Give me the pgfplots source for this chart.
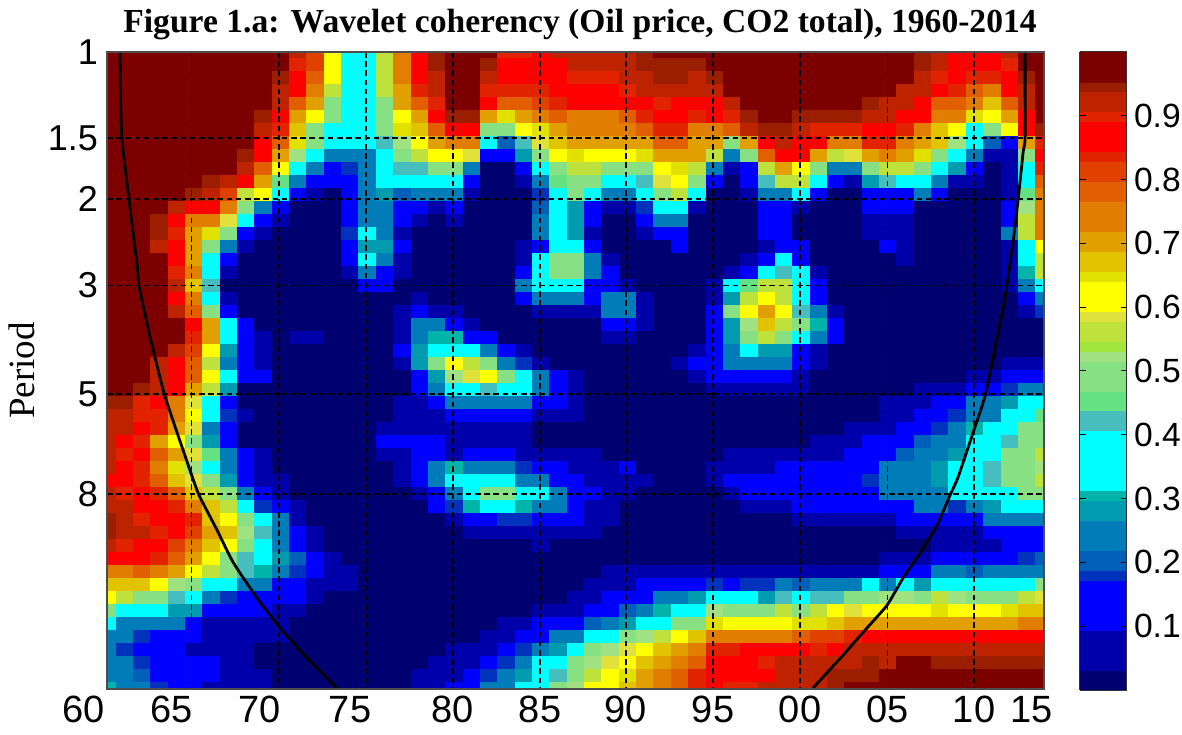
\documentclass[border=0pt]{standalone}
\usepackage{fontspec}
\usepackage{pgfplots}
\usepackage{pgfplotstable}
\pgfplotsset{compat=1.18}
\setmainfont{Liberation Sans}
\newfontfamily\ttlfont{Liberation Serif}
\pgfdeclareplotmark{cell}{\pgfpathrectangle{\pgfpoint{-4.34pt}{-3.25pt}}{\pgfpoint{8.68pt}{6.5pt}}\pgfusepathqfillstroke}
\pgfplotsset{colormap={wl}{
rgb255=(0,0,112) rgb255=(0,0,112)
rgb255=(0,0,170) rgb255=(0,0,170) rgb255=(0,0,170) rgb255=(0,0,170)
rgb255=(0,0,255) rgb255=(0,0,255) rgb255=(0,0,255) rgb255=(0,0,255) rgb255=(0,0,255)
rgb255=(0,50,190)
rgb255=(0,95,185) rgb255=(0,95,185)
rgb255=(0,125,185) rgb255=(0,125,185) rgb255=(0,125,185)
rgb255=(0,155,175) rgb255=(0,155,175)
rgb255=(0,180,170)
rgb255=(0,255,255) rgb255=(0,255,255) rgb255=(0,255,255) rgb255=(0,255,255) rgb255=(0,255,255) rgb255=(0,255,255)
rgb255=(70,190,190) rgb255=(70,190,190)
rgb255=(100,225,130) rgb255=(100,225,130)
rgb255=(135,225,130) rgb255=(135,225,130) rgb255=(135,225,130)
rgb255=(160,225,130)
rgb255=(160,230,60)
rgb255=(190,225,60) rgb255=(190,225,60)
rgb255=(225,225,60)
rgb255=(255,255,0) rgb255=(255,255,0) rgb255=(255,255,0)
rgb255=(225,225,0)
rgb255=(225,195,0) rgb255=(225,195,0)
rgb255=(225,160,0) rgb255=(225,160,0)
rgb255=(225,125,0) rgb255=(225,125,0) rgb255=(225,125,0)
rgb255=(225,95,0) rgb255=(225,95,0)
rgb255=(225,65,0) rgb255=(225,65,0)
rgb255=(225,35,0)
rgb255=(255,0,0) rgb255=(255,0,0) rgb255=(255,0,0)
rgb255=(225,35,0)
rgb255=(190,35,0) rgb255=(190,35,0)
rgb255=(155,30,0)
rgb255=(125,0,0) rgb255=(125,0,0) rgb255=(125,0,0)
}, colormap access=piecewise constant}
\pgfplotstableread[header=false]{
1960 99 99 99 99 99 99 99 99 99 99 99 99 99 99 99 99 99 99 99 99 99 99 99 99 99 99 99 95 92 92 92 92 92 88 92 92 95 95 92 88 74 66 63 47 33 26 22 24 26 30
1961 99 99 99 99 99 99 99 99 99 99 99 99 99 99 99 99 99 99 99 99 99 99 99 99 99 99 99 95 92 92 88 84 88 88 84 92 92 92 84 88 76 66 56 33 26 24 18 26 26 26
1962 99 99 99 99 99 99 99 99 99 99 99 99 99 99 99 99 99 99 99 99 99 99 99 99 99 99 95 84 84 88 84 88 84 84 88 88 84 92 88 88 79 68 50 33 26 18 15 18 20 22
1963 99 99 99 99 99 99 99 99 99 99 99 99 99 95 95 92 99 99 99 99 99 99 99 99 93 92 92 88 84 84 71 79 76 79 84 88 88 84 88 84 74 63 50 33 26 15 15 15 15 18
1964 99 99 99 99 99 99 99 99 99 99 99 99 92 88 84 88 88 84 92 88 92 99 99 92 88 88 88 74 74 71 63 71 65 68 79 84 88 88 81 79 71 52 43 29 22 15 15 15 15 15
1965 99 99 99 99 99 99 99 99 99 99 99 95 88 76 71 71 71 74 68 76 79 88 84 81 79 79 71 59 62 59 50 59 52 59 68 76 84 81 76 71 63 50 33 29 15 15 8 15 15 15
1966 99 99 99 99 99 99 99 99 99 99 95 92 88 74 65 50 33 33 43 33 47 71 71 63 55 62 56 33 33 26 29 45 33 47 56 66 68 71 66 62 56 33 26 15 8 8 8 15 15 8
1967 99 99 99 99 99 99 99 99 99 99 92 81 76 59 47 26 15 8 0 8 10 33 33 29 24 33 29 15 18 10 15 26 22 29 50 55 63 68 63 50 47 33 18 15 8 8 8 8 8 8
1968 99 99 99 99 99 99 99 99 95 92 88 56 50 33 15 8 0 0 0 0 0 10 15 10 10 15 0 0 8 0 0 15 15 15 26 33 47 52 50 43 43 26 15 15 8 8 8 8 8 8
1969 99 99 99 99 99 95 92 88 88 79 71 62 22 15 8 0 0 0 0 0 0 0 8 8 8 10 0 0 0 0 0 8 8 8 15 18 33 43 33 33 30 24 15 15 8 8 0 0 8 8
1970 99 99 95 92 92 88 84 79 71 62 45 33 15 8 0 0 0 0 0 0 0 0 0 0 0 0 0 0 0 0 0 0 0 8 8 15 22 26 26 29 24 15 15 8 8 8 0 0 0 0
1971 92 84 88 88 79 71 68 65 52 33 22 15 0 0 0 0 0 0 0 0 0 0 8 0 0 0 0 0 0 0 0 0 0 0 0 8 8 15 15 20 18 15 15 8 0 0 0 0 0 0
1972 81 81 79 74 71 63 50 50 33 26 15 8 0 0 0 0 0 0 0 0 0 0 8 0 0 0 0 0 0 0 0 0 0 0 0 0 0 8 8 15 15 8 8 0 0 0 0 0 0 0
1973 63 63 63 55 50 47 33 33 24 15 15 0 0 0 0 0 0 0 0 0 0 0 0 0 0 0 0 0 0 0 0 0 0 0 0 0 0 0 0 8 8 8 0 0 0 0 0 0 0 0
1974 33 33 33 33 33 33 33 33 26 18 15 15 15 15 18 15 15 8 0 0 0 0 0 0 0 0 0 0 0 0 0 0 0 0 0 0 0 0 0 0 8 8 0 0 0 0 0 0 0 0
1975 33 33 33 33 33 33 33 33 26 24 24 24 24 26 33 29 33 24 15 0 0 0 0 0 0 0 0 0 0 0 0 0 0 0 0 0 0 0 0 0 0 0 0 0 0 0 0 0 0 0
1976 56 56 56 56 50 50 47 43 33 33 33 29 24 24 24 29 26 15 15 0 0 0 0 0 0 0 0 0 0 8 15 8 0 0 0 0 0 0 0 0 0 0 0 0 0 0 0 0 0 0
1977 76 76 76 71 71 63 65 52 50 43 33 20 15 15 8 15 8 8 0 0 8 8 8 15 8 0 0 8 8 8 15 8 8 8 0 0 0 0 0 0 0 0 0 0 0 0 0 0 0 0
1978 88 88 88 84 79 71 68 63 56 43 33 22 10 8 0 0 0 0 0 8 15 22 24 29 29 15 15 8 8 8 15 15 15 15 8 0 0 0 0 0 0 0 0 0 0 0 0 0 8 8
1979 95 95 92 92 84 88 79 71 62 47 33 24 8 0 0 0 0 0 0 0 8 26 30 33 47 29 22 15 8 8 15 15 26 26 15 15 0 0 0 0 0 0 0 0 0 0 0 8 8 8
1980 99 99 99 99 99 95 88 76 63 47 33 26 15 8 0 0 0 0 0 0 8 15 30 33 63 52 33 26 15 8 8 8 30 33 26 18 8 0 0 0 0 0 0 0 0 0 8 8 8 15
1981 99 99 99 99 99 95 88 76 59 26 15 8 0 0 0 0 0 0 0 0 0 8 15 33 55 59 33 26 15 8 8 15 26 33 33 30 15 8 0 0 0 0 0 0 0 0 8 8 15 15
1982 96 95 92 90 88 71 47 33 15 0 0 0 0 0 0 0 0 0 0 0 0 0 10 26 50 63 43 26 15 8 8 15 26 33 47 33 15 8 0 0 0 0 0 0 0 8 8 15 18 22
1983 84 88 88 84 79 65 50 20 15 0 0 0 0 0 0 0 0 0 0 0 0 0 0 15 26 50 33 24 15 8 8 15 22 33 47 33 18 8 0 0 0 0 0 0 8 8 15 18 22 24
1984 84 88 88 84 79 71 62 43 29 15 8 0 0 0 0 8 8 15 22 15 0 0 0 8 18 33 33 22 15 8 8 8 18 24 33 30 18 8 0 0 0 0 0 0 8 15 18 26 29 33
1985 88 88 88 84 81 74 65 59 50 33 22 18 20 22 26 15 33 33 33 22 8 0 0 0 8 26 22 15 8 0 0 8 15 22 33 26 15 8 8 0 0 0 0 8 15 15 26 33 33 33
1986 92 88 88 88 84 79 71 68 63 50 45 33 33 33 33 33 50 50 33 22 8 0 0 0 0 15 15 15 8 0 0 8 15 15 26 22 15 8 0 0 0 0 0 8 15 22 29 33 43 50
1987 92 92 84 88 88 76 74 71 65 55 50 47 29 29 29 33 47 47 33 22 8 0 0 0 0 8 8 8 8 0 0 8 8 15 15 15 15 8 0 0 0 0 8 8 15 24 33 47 50 52
1988 92 92 84 88 88 76 74 71 63 55 47 33 15 15 8 15 22 22 15 15 8 0 0 0 0 0 0 0 0 0 0 8 8 8 15 8 8 8 0 0 0 8 8 15 20 33 47 52 56 62
1989 92 92 84 88 88 76 74 71 63 50 33 26 8 0 0 0 8 15 15 24 26 15 8 0 0 0 0 0 0 0 0 0 8 8 8 8 8 0 0 0 8 8 15 15 24 33 52 59 63 63
1990 92 92 92 84 88 79 74 71 63 50 33 26 8 0 0 0 0 0 8 22 24 15 8 0 0 0 0 0 0 0 0 0 15 8 8 0 0 0 0 0 8 8 15 20 29 47 59 63 65 68
1991 95 95 92 92 88 84 79 71 65 50 43 33 18 15 8 0 0 0 0 8 8 8 0 0 0 0 0 0 0 0 0 0 0 8 0 0 0 0 0 0 8 15 15 22 33 52 63 68 71 71
1992 96 95 95 92 84 88 84 79 71 63 59 47 33 22 15 0 0 0 0 0 0 0 0 0 0 0 0 0 0 0 0 0 0 0 0 0 0 0 0 0 8 15 24 30 40 56 68 71 76 76
1993 96 95 95 92 88 88 84 79 71 65 62 55 33 22 15 15 0 0 0 0 0 0 0 0 8 0 0 0 0 0 0 0 0 0 0 0 0 0 0 0 8 15 24 33 47 63 71 76 79 79
1994 99 95 92 92 88 84 74 71 71 55 47 33 8 0 0 0 0 0 0 0 0 0 0 8 15 8 0 0 0 0 0 0 0 0 0 0 0 0 0 0 8 15 29 33 50 68 76 79 84 84
1995 99 99 95 92 88 88 76 71 56 26 15 0 0 0 0 0 0 0 8 8 15 15 15 15 15 15 8 0 0 0 0 0 8 8 0 0 0 0 0 0 8 18 33 52 65 76 84 88 88 88
1996 99 99 99 99 92 90 79 50 26 8 0 0 0 0 0 0 0 8 33 29 47 29 29 26 22 15 8 0 0 0 0 8 8 15 8 0 0 0 0 0 8 15 33 47 62 76 84 88 88 84
1997 99 99 99 99 99 95 92 71 50 15 15 8 0 0 0 0 8 15 45 56 63 52 47 33 26 15 8 0 0 0 0 8 8 15 15 8 0 0 0 0 8 18 33 50 63 74 88 88 88 90
1998 99 99 99 99 99 99 95 88 79 56 43 26 15 15 15 8 15 33 56 62 71 68 55 29 22 15 8 0 0 0 0 8 8 15 15 8 0 0 0 0 8 18 29 47 63 74 88 90 88 92
1999 99 99 99 99 99 99 95 92 88 71 56 24 15 15 15 15 33 43 55 56 63 56 47 29 22 15 8 0 0 0 0 8 15 15 15 8 0 0 0 0 8 22 43 55 63 76 88 92 92 92
2000 99 99 99 99 99 95 92 88 88 63 55 33 8 0 0 10 15 33 33 33 43 50 33 15 15 8 8 0 0 0 0 8 15 15 15 15 8 0 0 0 8 20 33 50 65 79 88 92 92 92
2001 99 99 99 99 99 95 90 88 71 50 33 15 0 0 0 0 0 8 15 15 22 30 26 8 8 0 0 0 0 0 8 8 15 15 15 15 8 0 0 0 8 22 43 56 65 81 90 92 92 92
2002 99 99 99 99 99 95 90 76 55 26 15 0 0 0 0 0 0 0 0 0 8 15 15 0 0 0 0 0 0 0 8 8 15 15 15 15 8 0 0 0 8 24 43 62 68 81 88 92 95 95
2003 99 99 99 99 99 95 90 74 59 26 8 0 0 0 0 0 0 0 0 0 0 0 0 0 0 0 0 0 0 8 8 15 15 15 15 15 8 0 0 0 8 26 50 59 71 84 92 92 95 96
2004 99 99 99 99 95 92 88 84 71 50 29 15 15 8 8 0 0 0 0 0 0 0 0 0 0 0 0 0 0 8 15 15 15 18 15 15 8 0 0 0 8 33 50 63 71 88 92 95 95 96
2005 99 99 99 99 92 92 88 84 76 56 43 15 15 8 8 10 0 0 0 0 0 0 0 0 0 0 0 8 8 8 15 15 22 24 22 15 8 0 0 8 15 26 52 63 71 88 92 92 99 99
2006 99 99 99 92 92 88 84 76 71 56 33 15 15 8 8 8 8 0 0 0 0 0 0 0 0 0 0 8 8 15 15 20 24 26 22 15 15 8 0 8 15 33 52 62 71 88 92 96 99 99
2007 95 95 92 92 88 88 76 71 65 50 33 24 0 0 0 0 0 0 0 0 0 0 0 0 0 0 8 8 15 15 20 24 26 26 22 22 15 8 0 8 15 29 47 63 71 88 92 96 99 99
2008 92 92 84 88 79 74 68 68 50 33 22 15 0 0 0 0 0 0 0 0 0 0 0 0 0 0 8 15 15 18 22 24 29 29 26 22 15 8 8 15 22 33 55 65 71 88 92 95 99 99
2009 88 88 88 84 79 74 63 52 33 29 8 0 0 0 0 0 0 0 0 0 0 0 0 0 0 0 8 15 18 22 26 29 33 33 33 18 15 8 8 15 22 33 52 63 71 88 92 95 99 99
2010 88 88 84 79 74 65 33 33 26 15 8 0 0 0 0 0 0 0 0 0 0 0 0 0 0 8 10 22 26 30 33 33 33 33 33 24 15 8 8 15 20 33 50 63 71 88 92 95 99 99
2011 88 88 84 76 68 62 47 20 8 0 0 0 0 0 0 0 0 0 0 0 0 0 0 0 0 8 15 22 26 33 33 33 43 43 33 29 22 15 8 15 24 33 50 63 71 88 92 95 99 99
2012 92 84 88 88 79 71 62 15 8 8 8 8 15 15 26 8 8 8 8 0 0 0 0 0 8 15 18 29 33 33 43 47 47 47 33 33 24 15 15 15 24 33 50 65 71 88 92 95 99 99
2013 99 99 95 92 92 88 88 71 50 33 33 45 52 55 55 33 33 30 26 15 8 0 0 0 8 15 22 33 33 47 50 50 50 50 47 33 26 15 15 18 26 40 55 68 74 88 92 95 99 99
2014 99 99 99 99 99 99 95 90 88 84 79 76 74 76 76 63 56 55 33 26 18 0 0 0 8 15 24 33 45 50 50 56 52 55 50 33 26 15 15 20 26 47 59 68 76 88 92 95 99 99
}\T
\begin{document}
\begin{tikzpicture}
\useasboundingbox (-53.5pt,-22.5pt) rectangle (537.5pt,344.5pt);
\begin{axis}[
  at={(0pt,0pt)}, anchor=south west,
  scale only axis, width=468.5pt, height=318.5pt,
  xmin=1960, xmax=2014, ymin=1, ymax=20.03,
  ymode=log, log basis y=2, y dir=reverse,
  axis on top, clip marker paths=true,
  xtick={1964.88,1969.91,1974.93,1979.94,1984.96,1989.9,1994.93,1999.94,2004.97,2009.97},
  xticklabels={65\rule{19.7pt}{0pt},70\rule{19pt}{0pt},75\rule{16pt}{0pt},80,85,90,95,00,05,10},
  extra x ticks={1960,2014},
  extra x tick labels={60\rule{23pt}{0pt},15\rule{12pt}{0pt}},
  ytick={1.5,2,3,5,8},
  yticklabels={1.5,2,3,5,8},
  extra y ticks={1},
  extra y tick labels={1},
  extra tick style={grid=none},
  x tick label style={font=\fontsize{19}{19}\selectfont, yshift=0pt},
  y tick label style={font=\fontsize{18}{18}\selectfont, xshift=-1pt},
  major tick length=0pt,
  xmajorgrids, ymajorgrids,
  grid style={black, line width=0.8pt, dash pattern=on 2.8pt off 1.8pt},
  axis line style={draw=black!70, line width=0.6pt},
  ylabel={Period},
  every axis y label/.style={at={(axis description cs:-0.0907,0.5)}, rotate=90, anchor=center, font=\fontspec{Liberation Serif}\fontsize{18.5}{18.5}\selectfont},
  title={\ttlfont\bfseries Figure 1.a: Wavelet coherency (Oil price, CO2 total), 1960-2014},
  every axis title/.style={at={(axis description cs:0.5048,1)}, anchor=south, yshift=2.5pt, font=\fontsize{16.8}{16.8}\selectfont},
  point meta min=0, point meta max=100,
  colormap name=wl,
  colorbar sampled,
  colorbar style={
    at={(1.0384,1)}, anchor=north west,
    scale only axis, width=23.5pt, height=319pt,
    samples=65,
    ytick={10,20,30,40,50,60,70,80,90},
    yticklabels={0.1,0.2,0.3,0.4,0.5,0.6,0.7,0.8,0.9},
    yticklabel pos=right,
    y tick label style={font=\fontsize{16.8}{16.8}\selectfont, xshift=0pt},
    tick align=inside, major tick length=3pt,
    tick style={black, line width=0.5pt},
    axis line style={draw=black!80, line width=0.5pt},
  },
  clip=true,
]
\pgfplotsinvokeforeach{1,...,50}{
  \addplot[scatter, only marks, forget plot, mark=cell, line width=0.1pt,
    scatter/use mapped color={draw=mapped color, fill=mapped color}, point meta=explicit]
    table[x index=0, y expr={2^(0.08825*(#1-1))}, meta index=#1]{\T};
}
\addplot[black, line width=1.4pt, smooth, tension=0.3, forget plot] coordinates {
(1960.75,1) (1960.86,1.5) (1961.73,2.72) (1961.84,3) (1962.48,3.82) (1963.34,5.05) (1964.78,7.15) (1965.30,8.04) (1966.34,9.48) (1967.26,11.02) (1968.65,13.06) (1969.97,15.03) (1971.53,17.3) (1973.26,19.95)};
\addplot[black, line width=1.4pt, smooth, tension=0.3, forget plot] coordinates {
(2012.91,1) (2012.91,1.5) (2012.80,1.6) (2012.51,2) (2012.22,2.44) (2011.76,3.17) (2011.30,3.84) (2010.60,5.05) (2009.91,6) (2009.05,7.39) (2008.59,8.04) (2007.84,9.26) (2006.86,10.56) (2005.88,11.88) (2004.96,13.5) (2003.80,15.03) (2002.42,17.08) (2000.69,19.95)};
\end{axis}
\end{tikzpicture}
\end{document}
